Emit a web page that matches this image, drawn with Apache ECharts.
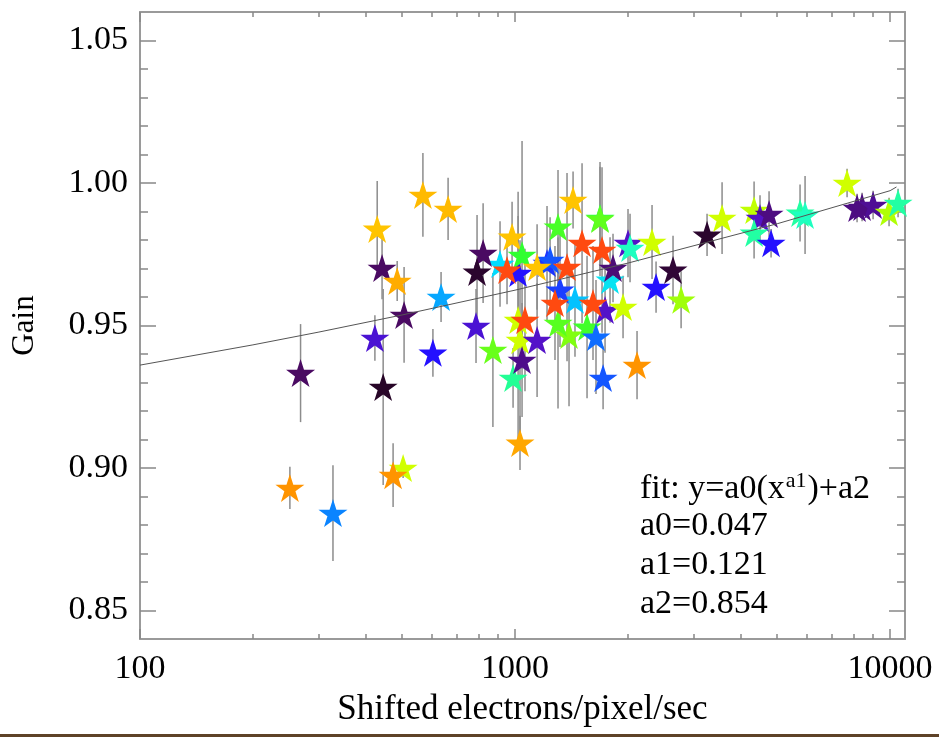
<!DOCTYPE html>
<html>
<head>
<meta charset="utf-8">
<script src="https://cdn.jsdelivr.net/npm/echarts@6/dist/echarts.min.js"></script>
<style>
  html, body { margin: 0; padding: 0; background: #fff; }
  #chart { width: 939px; height: 737px; }
</style>
</head>
<body>
<div id="chart"></div>
<script>
// shifted electrons/pixel/sec (drawing order: back to front)
const gainX = [912, 1019, 1217, 1445, 1318, 268, 251, 327, 423, 429, 442, 445, 485, 503, 473, 506, 568, 663, 635, 604,
  787, 822, 792, 873, 982, 1031, 988, 1240, 1044, 1145, 1302, 1428, 1685, 1685, 1792, 2001, 2026, 1825, 2319, 1738,
  1941, 2377, 2638, 2772, 2115, 1717, 1393, 1556, 1644, 1302, 1031, 1019, 1145, 1044, 952, 1509, 1706, 1376, 1278, 1614,
  1063, 3251, 3565, 4339, 4500, 4757, 4339, 4816, 5754, 5934, 7680, 8166, 8420, 9010, 9938, 10503];
// gain
const gainY = [0.9716, 0.9684, 0.9719, 0.9590, 0.9625, 0.9333, 0.8930, 0.8842, 0.9456, 0.9839, 0.9702, 0.9284, 0.9656, 0.9000, 0.8975, 0.9537, 0.9958, 0.9909, 0.9600, 0.9404,
  0.9498, 0.9754, 0.9688, 0.9414, 0.9811, 0.9088, 0.9316, 0.9730, 0.9747, 0.9705, 0.9846, 0.9940, 0.9877, 0.9874, 0.9660, 0.9789, 0.9772, 0.9702, 0.9793, 0.9554,
  0.9565, 0.9635, 0.9695, 0.9590, 0.9361, 0.9316, 0.9467, 0.9495, 0.9460, 0.9509, 0.9449, 0.9519, 0.9449, 0.9379, 0.9695, 0.9789, 0.9765, 0.9705, 0.9579, 0.9579,
  0.9519, 0.9818, 0.9877, 0.9905, 0.9877, 0.9891, 0.9825, 0.9789, 0.9895, 0.9888, 1.0000, 0.9912, 0.9916, 0.9923, 0.9898, 0.9930];
// 1-sigma error on gain
const gainErr = [0.0150, 0.0200, 0.0200, 0.0200, 0.0200, 0.0172, 0.0074, 0.0168, 0.0080, 0.0168, 0.0110, 0.0344, 0.0070, 0.0035, 0.0112, 0.0168, 0.0147, 0.0109, 0.0088, 0.0084,
  0.0130, 0.0175, 0.0200, 0.0270, 0.0123, 0.0095, 0.0105, 0.0150, 0.0400, 0.0150, 0.0200, 0.0100, 0.0180, 0.0200, 0.0150, 0.0120, 0.0120, 0.0120, 0.0130, 0.0150,
  0.0110, 0.0090, 0.0120, 0.0100, 0.0120, 0.0110, 0.0250, 0.0250, 0.0200, 0.0300, 0.0350, 0.0450, 0.0200, 0.0200, 0.0120, 0.0280, 0.0290, 0.0330, 0.0200, 0.0200,
  0.0250, 0.0074, 0.0126, 0.0100, 0.0080, 0.0080, 0.0090, 0.0050, 0.0100, 0.0137, 0.0050, 0.0050, 0.0050, 0.0050, 0.0050, 0.0050];
// colour-table index of each star (0 = black ... 12 = red)
const colourIdx = [5, 3, 3.3, 4.7, 3.4, 1, 11, 4, 2.2, 10, 1, 0.2, 10.5, 9, 11, 1, 10.2, 10.2, 4.4, 3,
  2.2, 1, 0.3, 7.7, 10, 10.6, 6.3, 3.6, 7, 10, 7.3, 10, 6.8, 7.6, 5.2, 2, 6, 1.2, 9, 2,
  9, 3, 0.4, 8.4, 11, 3.6, 8, 7.2, 3.8, 7.5, 9, 9, 2, 1.4, 12, 12, 12, 12, 12, 12,
  12, 0.3, 9, 8.8, 2, 1.3, 6.2, 3, 6.2, 6, 9, 1.3, 1.3, 1.5, 8.6, 6.2];

// fit: y = a0 (x^a1) + a2
const fitX = [100, 200, 300, 500, 1000, 2000, 5000, 10000, 10400];
const fitY = [0.9361, 0.9432, 0.9477, 0.9537, 0.9624, 0.9719, 0.9857, 0.9973, 0.9986];
const fitText = ['a0=0.047', 'a1=0.121', 'a2=0.854'];

const xMajor = [100, 1000, 10000];
const xMinor = [200, 300, 400, 500, 600, 700, 800, 900, 2000, 3000, 4000, 5000, 6000, 7000, 8000, 9000];
const yTicks = [0.85, 0.90, 0.95, 1.00, 1.05];

const palette = ['#1e0418', '#4a0a62', '#5412c8', '#2410ff', '#0a84ff', '#00dcff', '#1effc0',
  '#30ff30', '#80ff10', '#d0ff00', '#ffc400', '#ff9400', '#ff4a10'];

const starPath = 'path://M100,0 L122.5,69.1 L195.1,69.1 L136.3,111.8 L158.8,180.9 L100,138.2 L41.2,180.9 L63.7,111.8 L4.9,69.1 L77.5,69.1 Z';
const font = '"Liberation Serif", "DejaVu Serif", serif';
const axisGrey = '#9a9a9a';

const points = gainX.map((x, i) => [x, gainY[i], colourIdx[i]]);
const bars = gainX.map((x, i) => [x, gainY[i], gainErr[i]]);
const fitLine = fitX.map((x, i) => [x, fitY[i]]);

const xBase = { type: 'log', logBase: 10, min: 100, max: 10960, gridIndex: 0, splitLine: { show: false } };
const yBase = { type: 'value', min: 0.84, max: 1.06, splitLine: { show: false } };

const chart = echarts.init(document.getElementById('chart'));
chart.setOption({
  backgroundColor: '#ffffff',
  animation: false,
  grid: { left: 140, right: 34, top: 12, bottom: 98 },
  xAxis: [
    Object.assign({}, xBase, {
      position: 'bottom',
      name: 'Shifted electrons/pixel/sec',
      nameLocation: 'middle',
      nameGap: 53,
      nameTextStyle: { fontFamily: font, fontSize: 35, color: '#000' },
      axisLine: { show: true, lineStyle: { color: axisGrey, width: 2 } },
      axisTick: { show: true, inside: true, length: 10, customValues: xMajor, lineStyle: { color: '#888', width: 1.5 } },
      axisLabel: { show: true, customValues: xMajor, margin: 13, fontFamily: font, fontSize: 34, color: '#000',
        formatter: (v) => String(Math.round(v)) }
    }),
    Object.assign({}, xBase, {
      position: 'bottom',
      axisLine: { show: false },
      axisTick: { show: true, inside: true, length: 5, customValues: xMinor, lineStyle: { color: '#888', width: 1.5 } },
      axisLabel: { show: false }
    }),
    Object.assign({}, xBase, {
      position: 'top',
      axisLine: { show: true, lineStyle: { color: axisGrey, width: 2 } },
      axisTick: { show: true, inside: true, length: 10, customValues: xMajor, lineStyle: { color: '#888', width: 1.5 } },
      axisLabel: { show: false }
    }),
    Object.assign({}, xBase, {
      position: 'top',
      axisLine: { show: false },
      axisTick: { show: true, inside: true, length: 5, customValues: xMinor, lineStyle: { color: '#888', width: 1.5 } },
      axisLabel: { show: false }
    })
  ],
  yAxis: [
    Object.assign({}, yBase, {
      position: 'left',
      name: 'Gain',
      nameLocation: 'middle',
      nameGap: 100,
      nameTextStyle: { fontFamily: font, fontSize: 31, color: '#000' },
      axisLine: { show: true, lineStyle: { color: axisGrey, width: 2 } },
      axisTick: { show: true, inside: true, length: 16, customValues: yTicks, lineStyle: { color: '#888', width: 1.5 } },
      minorTick: { show: true, splitNumber: 5, length: 8, lineStyle: { color: '#888', width: 1.5 } },
      axisLabel: { show: true, customValues: yTicks, margin: 12, fontFamily: font, fontSize: 34, color: '#000',
        formatter: (v) => v.toFixed(2) }
    }),
    Object.assign({}, yBase, {
      position: 'right',
      axisLine: { show: true, lineStyle: { color: axisGrey, width: 2 } },
      axisTick: { show: true, inside: true, length: 16, customValues: yTicks, lineStyle: { color: '#888', width: 1.5 } },
      minorTick: { show: true, splitNumber: 5, length: 8, lineStyle: { color: '#888', width: 1.5 } },
      axisLabel: { show: false }
    })
  ],
  visualMap: {
    show: false,
    type: 'continuous',
    seriesIndex: 2,
    dimension: 2,
    min: 0,
    max: 12,
    inRange: { color: palette }
  },
  series: [
    {
      // error bars
      type: 'custom',
      xAxisIndex: 0,
      yAxisIndex: 0,
      clip: true,
      encode: { x: 0, y: 1 },
      data: bars,
      renderItem: (params, api) => {
        const x = api.value(0), y = api.value(1), e = api.value(2);
        const top = api.coord([x, y + e]);
        const bot = api.coord([x, y - e]);
        return {
          type: 'line',
          shape: { x1: top[0], y1: top[1], x2: bot[0], y2: bot[1] },
          style: { stroke: '#8c8c8c', lineWidth: 1.5 }
        };
      },
      z: 2
    },
    {
      type: 'line',
      xAxisIndex: 0,
      yAxisIndex: 0,
      data: fitLine,
      showSymbol: false,
      lineStyle: { color: '#555', width: 1 },
      z: 4
    },
    {
      type: 'scatter',
      xAxisIndex: 0,
      yAxisIndex: 0,
      data: points,
      symbol: starPath,
      symbolSize: [29, 28],
      clip: true,
      itemStyle: { opacity: 1 },
      z: 3
    }
  ],
  graphic: [
    {
      type: 'text', left: 640, top: 470,
      style: {
        text: 'fit: y=a0(x{sup|a1})+a2',
        font: '34px ' + font,
        fill: '#000',
        rich: { sup: { fontSize: 22, fontFamily: font, fill: '#000', padding: [0, 1, 16, 1] } }
      }
    },
    { type: 'text', left: 640, top: 509, style: { text: fitText[0], font: '34px ' + font, fill: '#000' } },
    { type: 'text', left: 640, top: 548, style: { text: fitText[1], font: '34px ' + font, fill: '#000' } },
    { type: 'text', left: 640, top: 587, style: { text: fitText[2], font: '34px ' + font, fill: '#000' } },
    { type: 'rect', left: 0, bottom: 0, shape: { width: 939, height: 3 }, style: { fill: '#5e4228' } }
  ]
});
window.addEventListener('resize', () => chart.resize());
</script>
</body>
</html>
